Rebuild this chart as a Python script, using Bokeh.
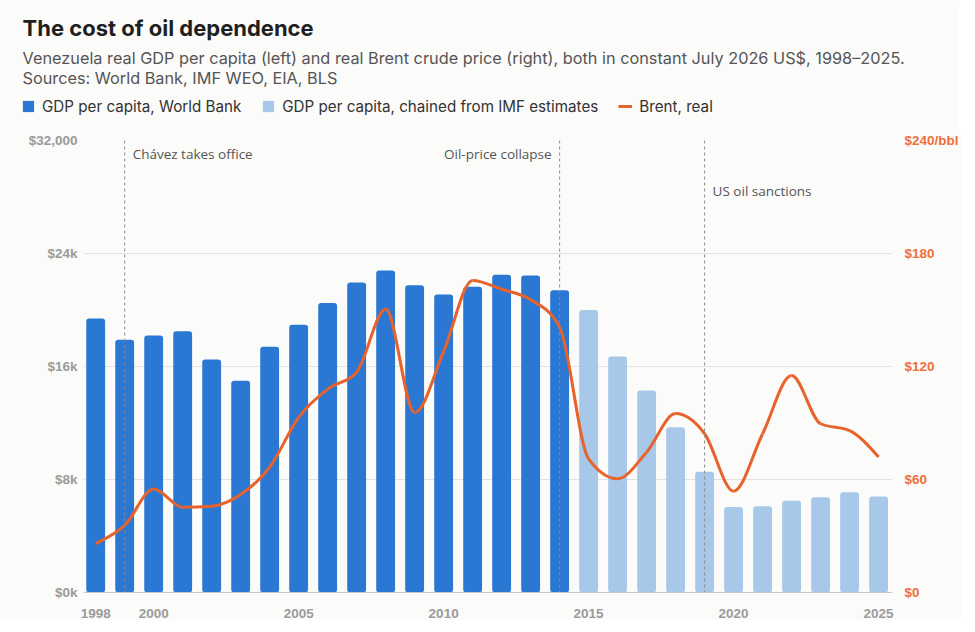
import numpy as np
from bokeh.plotting import figure
from bokeh.layouts import column
from bokeh.models import (ColumnDataSource, Range1d, LinearAxis, FixedTicker, Span,
                          Label, Legend, LegendItem)
from bokeh.embed import file_html
from bokeh.resources import INLINE

# ---------------- data ----------------
years_wb = [1998, 1999, 2000, 2001, 2002, 2003, 2004, 2005, 2006, 2007, 2008,
            2009, 2010, 2011, 2012, 2013, 2014]
gdp_wb = [19400, 17900, 18200, 18500, 16500, 15000, 17400, 18950, 20500, 21950,
          22800, 21750, 21100, 21650, 22500, 22450, 21400]

years_imf = [2015, 2016, 2017, 2018, 2019, 2020, 2021, 2022, 2023, 2024, 2025]
gdp_imf = [20000, 16700, 14300, 11700, 8550, 6050, 6100, 6500, 6750, 7100, 6800]

brent_years = list(range(1998, 2026))
brent_real = [26, 35.6, 55, 45.3, 45.8, 52, 66.5, 93, 108, 117, 150.5, 95.5, 128,
              165.7, 161, 155.5, 141, 71, 60.4, 74.5, 95, 84.3, 53.8, 84.3, 115.2,
              89.6, 86, 71.9]

event_years = [1999, 2014, 2019]
event_labels = ["Chávez takes office", "Oil-price collapse", "US oil sanctions"]

x_ticks = [1998, 2000, 2005, 2010, 2015, 2020, 2025]
gdp_ticks = [0, 8000, 16000, 24000, 32000]
gdp_tick_labels = ["$0k", "$8k", "$16k", "$24k", "$32,000"]
brent_ticks = [0, 60, 120, 180, 240]
brent_tick_labels = ["$0", "$60", "$120", "$180", "$240/bbl"]

title_text = "The cost of oil dependence"
subtitle_text = ("Venezuela real GDP per capita (left) and real Brent crude price (right), "
                 "both in constant July 2026 US$, 1998\u20132025.")
sources_text = "Sources: World Bank, IMF WEO, EIA, BLS"
legend_labels = ["GDP per capita, World Bank", "GDP per capita, chained from IMF estimates",
                 "Brent, real"]

# ---------------- styles ----------------
BG = "#fbfbf9"
DARK_BLUE = "#2a77d4"
LIGHT_BLUE = "#a8c8ea"
ORANGE = "#e8622c"
ORANGE_TXT = "#ef6f3c"
TICK_GRAY = "#9a9a9a"
UI_FONT = "Inter"
TICK_FONT = "Liberation Sans"
W = 959

# ---------------- header (title, subtitle, legend) ----------------
H_HEAD = 132
head = figure(width=W, height=H_HEAD, output_backend="svg", toolbar_location=None,
              x_range=Range1d(0, 1), y_range=Range1d(0, 1),
              x_axis_type=None, y_axis_type=None,
              min_border_left=0, min_border_right=0, min_border_top=0,
              min_border_bottom=0)
head.frame_align = False
head.background_fill_color = BG
head.border_fill_color = BG
head.outline_line_color = None
head.grid.visible = False

head.add_layout(Label(x=22, y=H_HEAD - 27.5, x_units="screen", y_units="screen",
                      text=title_text, text_font=UI_FONT, text_font_size="22px",
                      text_font_style="bold", text_color="#1f1f1f",
                      text_baseline="alphabetic"))
head.add_layout(Label(x=22, y=H_HEAD - 57.5, x_units="screen", y_units="screen",
                      text=subtitle_text, text_font=UI_FONT, text_font_size="16.3px",
                      text_color="#555555", text_baseline="alphabetic"))
head.add_layout(Label(x=22, y=H_HEAD - 77.5, x_units="screen", y_units="screen",
                      text=sources_text, text_font=UI_FONT, text_font_size="16.3px",
                      text_color="#555555", text_baseline="alphabetic"))

# legend proxies (nothing drawn in the header; they only supply legend swatches)
lg_wb = head.vbar(x=[np.nan], top=[np.nan], width=0.5, fill_color=DARK_BLUE,
                  line_color=None)
lg_imf = head.vbar(x=[np.nan], top=[np.nan], width=0.5, fill_color=LIGHT_BLUE,
                   line_color=None)
lg_brent = head.line(x=[np.nan, np.nan], y=[np.nan, np.nan], line_color=ORANGE,
                     line_width=3)
legend = Legend(items=[LegendItem(label=legend_labels[0], renderers=[lg_wb]),
                       LegendItem(label=legend_labels[1], renderers=[lg_imf]),
                       LegendItem(label=legend_labels[2], renderers=[lg_brent])],
                location=(21, H_HEAD - 116), orientation="horizontal",
                glyph_width=14, glyph_height=14, label_height=20, label_standoff=7,
                spacing=20, padding=0, margin=0, border_line_color=None,
                background_fill_alpha=0, label_text_font=UI_FONT,
                label_text_font_size="15.2px", label_text_color="#333333")
head.add_layout(legend, "center")

# ---------------- main chart ----------------
p = figure(frame_width=809, frame_height=452, output_backend="svg",
           toolbar_location=None,
           x_range=Range1d(1997.58, 2025.48), y_range=Range1d(0, 32000),
           min_border_left=83, min_border_right=67, min_border_top=8,
           min_border_bottom=28)
p.frame_align = False
p.background_fill_color = BG
p.border_fill_color = BG
p.outline_line_color = None
p.extra_y_ranges = {"brent": Range1d(0, 240)}

p.xgrid.grid_line_color = None
p.ygrid.grid_line_color = "#e2e2e0"
p.ygrid.grid_line_width = 1
p.ygrid.ticker = FixedTicker(ticks=gdp_ticks)

src_wb = ColumnDataSource(dict(x=years_wb, top=gdp_wb))
src_imf = ColumnDataSource(dict(x=years_imf, top=gdp_imf))
p.vbar(x="x", top="top", width=0.65, source=src_wb, fill_color=DARK_BLUE,
       line_color=None, border_radius=3)
p.vbar(x="x", top="top", width=0.65, source=src_imf, fill_color=LIGHT_BLUE,
       line_color=None, border_radius=3)

for yr in event_years:
    p.add_layout(Span(location=yr, dimension="height", line_color="#8a8a8a",
                      line_width=1, line_dash="3 3"))

# smooth Brent line (monotone cubic drawn as bezier segments through the data)
xs = np.array(brent_years, dtype=float)
ys = np.array(brent_real, dtype=float)
n = len(xs)
h = np.diff(xs)
s = np.diff(ys) / h
t = np.zeros(n)
for i in range(1, n - 1):
    pp = (s[i - 1] * h[i] + s[i] * h[i - 1]) / (h[i - 1] + h[i])
    t[i] = (np.sign(s[i - 1]) + np.sign(s[i])) * min(abs(s[i - 1]), abs(s[i]), 0.5 * abs(pp))
t[0] = (3 * s[0] - t[1]) / 2
t[-1] = (3 * s[-1] - t[-2]) / 2
src_b = ColumnDataSource(dict(
    x0=xs[:-1], y0=ys[:-1], x1=xs[1:], y1=ys[1:],
    cx0=xs[:-1] + h / 3, cy0=ys[:-1] + t[:-1] * h / 3,
    cx1=xs[1:] - h / 3, cy1=ys[1:] - t[1:] * h / 3))
p.bezier(x0="x0", y0="y0", x1="x1", y1="y1", cx0="cx0", cy0="cy0",
         cx1="cx1", cy1="cy1", source=src_b, line_color=ORANGE,
         line_width=3, y_range_name="brent")

p.xaxis.ticker = FixedTicker(ticks=x_ticks)
p.xaxis.axis_line_color = "#c8c8c8"
p.xaxis.major_tick_line_color = None
p.xaxis.major_tick_out = 0
p.xaxis.minor_tick_line_color = None
p.xaxis.major_label_standoff = 16
p.xaxis.major_label_text_font = TICK_FONT
p.xaxis.major_label_text_font_size = "13.5px"
p.xaxis.major_label_text_font_style = "bold"
p.xaxis.major_label_text_color = TICK_GRAY

p.yaxis.ticker = FixedTicker(ticks=gdp_ticks)
p.yaxis.major_label_overrides = {k: v for k, v in zip(gdp_ticks, gdp_tick_labels)}
p.yaxis.axis_line_color = None
p.yaxis.major_tick_line_color = None
p.yaxis.major_tick_out = 0
p.yaxis.minor_tick_line_color = None
p.yaxis.major_label_standoff = 6
p.yaxis.major_label_text_font = TICK_FONT
p.yaxis.major_label_text_font_size = "13.5px"
p.yaxis.major_label_text_font_style = "bold"
p.yaxis.major_label_text_color = TICK_GRAY

ax_r = LinearAxis(y_range_name="brent", ticker=FixedTicker(ticks=brent_ticks))
ax_r.major_label_overrides = {k: v for k, v in zip(brent_ticks, brent_tick_labels)}
ax_r.axis_line_color = None
ax_r.major_tick_line_color = None
ax_r.major_tick_out = 0
ax_r.minor_tick_line_color = None
ax_r.major_label_standoff = 12
ax_r.major_label_text_font = TICK_FONT
ax_r.major_label_text_font_size = "13.5px"
ax_r.major_label_text_font_style = "bold"
ax_r.major_label_text_color = ORANGE_TXT
p.add_layout(ax_r, "right")

FRAME_H = 452
ev_y = [FRAME_H - 13, FRAME_H - 13, FRAME_H - 50]
ev_align = ["left", "right", "left"]
ev_off = [8, -8, 8]
for yr, lab, yy, al, off in zip(event_years, event_labels, ev_y, ev_align, ev_off):
    p.add_layout(Label(x=yr, y=yy, y_units="screen", text=lab, x_offset=off,
                       text_align=al, text_baseline="middle", text_font="Open Sans",
                       text_font_size="13.5px", text_color="#555555"))

layout = column(head, p, spacing=0)
open("out.html", "w").write(file_html(layout, INLINE))
